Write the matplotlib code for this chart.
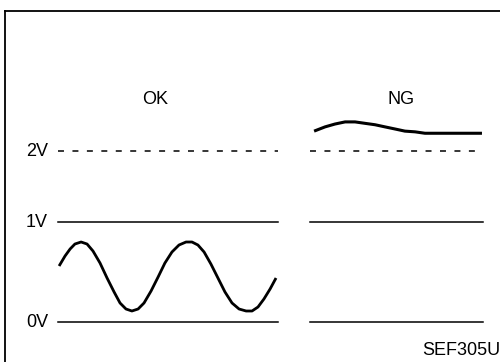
import numpy as np
import matplotlib
matplotlib.use("Agg")
import matplotlib.pyplot as plt
from matplotlib.lines import Line2D

plt.rcParams['font.family'] = ['Liberation Sans', 'DejaVu Sans']
plt.rcParams['lines.scale_dashes'] = False

# reference levels (volts) and their labels
levels = [0, 1, 2]
level_labels = ['0V', '1V', '2V']
level_styles = ['solid', 'solid', 'dashed']

# time spans of the two panels (arbitrary units)
ok_span = (0.0, 10.0)
ng_span = (11.45, 19.3)

# OK signal
ok_t = [0.05, 0.32, 0.55, 0.77, 1.05, 1.32, 1.59, 1.91, 2.23, 2.55, 2.82, 3.09,
        3.36, 3.64, 3.91, 4.23, 4.55, 4.86, 5.18, 5.50, 5.82, 6.09, 6.36, 6.64,
        6.95, 7.27, 7.59, 7.91, 8.23, 8.55, 8.82, 9.09, 9.36, 9.64, 9.91]
ok_v = [0.56, 0.66, 0.73, 0.78, 0.80, 0.78, 0.71, 0.59, 0.44, 0.30, 0.19, 0.13,
        0.11, 0.13, 0.19, 0.31, 0.45, 0.59, 0.70, 0.77, 0.80, 0.80, 0.77, 0.70,
        0.58, 0.44, 0.30, 0.19, 0.13, 0.11, 0.11, 0.15, 0.23, 0.33, 0.44]

# NG signal
ng_t = [11.64, 12.14, 12.59, 13.05, 13.5, 13.95, 14.41, 14.86, 15.32, 15.77,
        16.23, 16.68, 17.23, 17.82, 18.5, 19.27]
ng_v = [2.28, 2.34, 2.38, 2.41, 2.41, 2.39, 2.37, 2.34, 2.31, 2.28,
        2.27, 2.25, 2.25, 2.25, 2.25, 2.25]


# the sketch is not to scale: above 1V the spacing shrinks
def fwd(v):
    v = np.asarray(v, dtype=float)
    return np.where(v <= 1, v, 1 + 0.71 * (v - 1))


def inv(s):
    s = np.asarray(s, dtype=float)
    return np.where(s <= 1, s, 1 + (s - 1) / 0.71)


fig = plt.figure(figsize=(5, 3.62), dpi=100)
ax = fig.add_axes([0, 0, 1, 1])
ax.set_yscale('function', functions=(fwd, inv))
ax.set_xlim(-2.636, 20.09)
ax.set_ylim(-0.40, 4.127)
ax.axis('off')

fs = 13
for lv, lab, st in zip(levels, level_labels, level_styles):
    kw = dict(color='black', lw=1.1)
    if st == 'dashed':
        kw['dashes'] = (4.3, 6.1)
    for span in (ok_span, ng_span):
        ax.plot(span, [lv, lv], **kw)
    ax.text(-0.45, lv, lab, ha='right', va='center', fontsize=fs)

ax.plot(ok_t, ok_v, color='black', lw=2.0, solid_capstyle='butt')
ax.plot(ng_t, ng_v, color='black', lw=2.2, solid_capstyle='butt')

ax.text(4.4, 2.72, 'OK', ha='center', va='center', fontsize=fs)
ax.text(15.6, 2.72, 'NG', ha='center', va='center', fontsize=fs)
ax.text(16.55, -0.28, 'SEF305U', ha='left', va='center', fontsize=fs)

# frame
fig.add_artist(Line2D([0.009, 1.0], [0.9696, 0.9696], color='black', lw=1.3))
fig.add_artist(Line2D([0.009, 0.009], [0.0, 0.9696], color='black', lw=1.3))

fig.savefig('out.png', dpi=100)
